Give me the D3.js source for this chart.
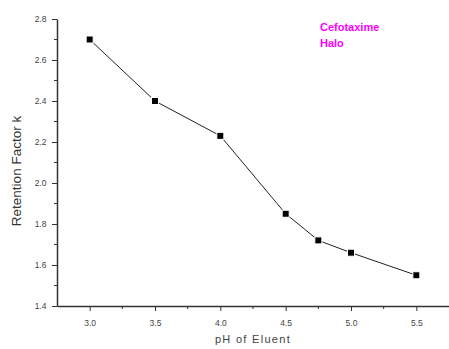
<!DOCTYPE html>
<html>
<head>
<meta charset="utf-8">
<script src="https://cdn.jsdelivr.net/npm/d3@7"></script>
<style>
body { margin: 0; background: #fff; }
text { font-family: "Liberation Sans", Arial, sans-serif; }
</style>
</head>
<body>
<div id="container"></div>
<script>
var width = 449;
var height = 349;

// data
var phValues = [3.0, 3.5, 4.0, 4.5, 4.75, 5.0, 5.5];
var kValues = [2.70, 2.40, 2.23, 1.85, 1.72, 1.66, 1.55];
var xTicks = [3.0, 3.5, 4.0, 4.5, 5.0, 5.5];
var yTicks = [1.4, 1.6, 1.8, 2.0, 2.2, 2.4, 2.6, 2.8];
var legendLines = ["Cefotaxime", "Halo"];

var margin = {left: 57, right: 0, top: 19, bottom: 43};

var x = d3.scaleLinear().domain([2.75, 5.75]).range([margin.left, width - margin.right]);
var y = d3.scaleLinear().domain([1.4, 2.8]).range([height - margin.bottom, margin.top]);

const svg = d3.create("svg")
    .attr("width", width)
    .attr("height", height);

var axisColor = "#333";

// minor ticks
var xMinor = d3.range(3.25, 5.75, 0.5);
var yMinor = d3.range(1.5, 2.8, 0.2);

var gx = svg.append("g")
    .attr("transform", "translate(0," + y(1.4) + ")")
    .call(d3.axisBottom(x).tickValues(xTicks).tickSize(5).tickSizeOuter(0)
        .tickFormat(d3.format(".1f")));
gx.append("g").selectAll("line").data(xMinor).enter().append("line")
    .attr("x1", function(d) { return x(d); })
    .attr("x2", function(d) { return x(d); })
    .attr("y1", 0).attr("y2", 3)
    .attr("stroke", axisColor);

var gy = svg.append("g")
    .attr("transform", "translate(" + x(2.75) + ",0)")
    .call(d3.axisLeft(y).tickValues(yTicks).tickSize(5).tickSizeOuter(0)
        .tickFormat(d3.format(".1f")));
gy.append("g").selectAll("line").data(yMinor).enter().append("line")
    .attr("y1", function(d) { return y(d); })
    .attr("y2", function(d) { return y(d); })
    .attr("x1", 0).attr("x2", -3)
    .attr("stroke", axisColor);

[gx, gy].forEach(function(g) {
    g.selectAll(".domain").attr("stroke", axisColor).attr("stroke-width", 1.5);
    g.selectAll(".tick line").attr("stroke", axisColor);
    g.selectAll(".tick text").attr("fill", "#444").attr("font-size", 8.5)
        .attr("font-family", "Liberation Sans, Arial, sans-serif");
});
gx.selectAll(".tick text").attr("dy", "1.4em");
gy.selectAll(".tick text").attr("dx", "-0.3em");

// line
var line = d3.line()
    .x(function(d, i) { return x(phValues[i]); })
    .y(function(d) { return y(d); });

svg.append("path")
    .datum(kValues)
    .attr("fill", "none")
    .attr("stroke", "#222")
    .attr("stroke-width", 1)
    .attr("d", line);

svg.selectAll(".pt").data(kValues).enter().append("rect")
    .attr("class", "pt")
    .attr("x", function(d, i) { return x(phValues[i]) - 3.5; })
    .attr("y", function(d) { return y(d) - 3.5; })
    .attr("width", 7)
    .attr("height", 7)
    .attr("fill", "#000")
    .attr("stroke", "#fff")
    .attr("stroke-width", 1);

// axis titles
svg.append("text")
    .attr("transform", "translate(21,171) rotate(-90)")
    .attr("text-anchor", "middle")
    .attr("font-size", 13.5)
    .attr("fill", "#333")
    .text("Retention Factor k");

svg.append("text")
    .attr("x", 253)
    .attr("y", 343)
    .attr("text-anchor", "middle")
    .attr("font-size", 11)
    .attr("fill", "#444")
    .attr("letter-spacing", 1.3)
    .text("pH of Eluent");

svg.selectAll(".leg").data(legendLines).enter().append("text")
    .attr("x", 320)
    .attr("y", function(d, i) { return 31 + i * 16; })
    .attr("font-size", 11)
    .attr("font-weight", "bold")
    .attr("fill", "#ff00ff")
    .text(function(d) { return d; });

document.getElementById("container").append(svg.node());
</script>
</body>
</html>
